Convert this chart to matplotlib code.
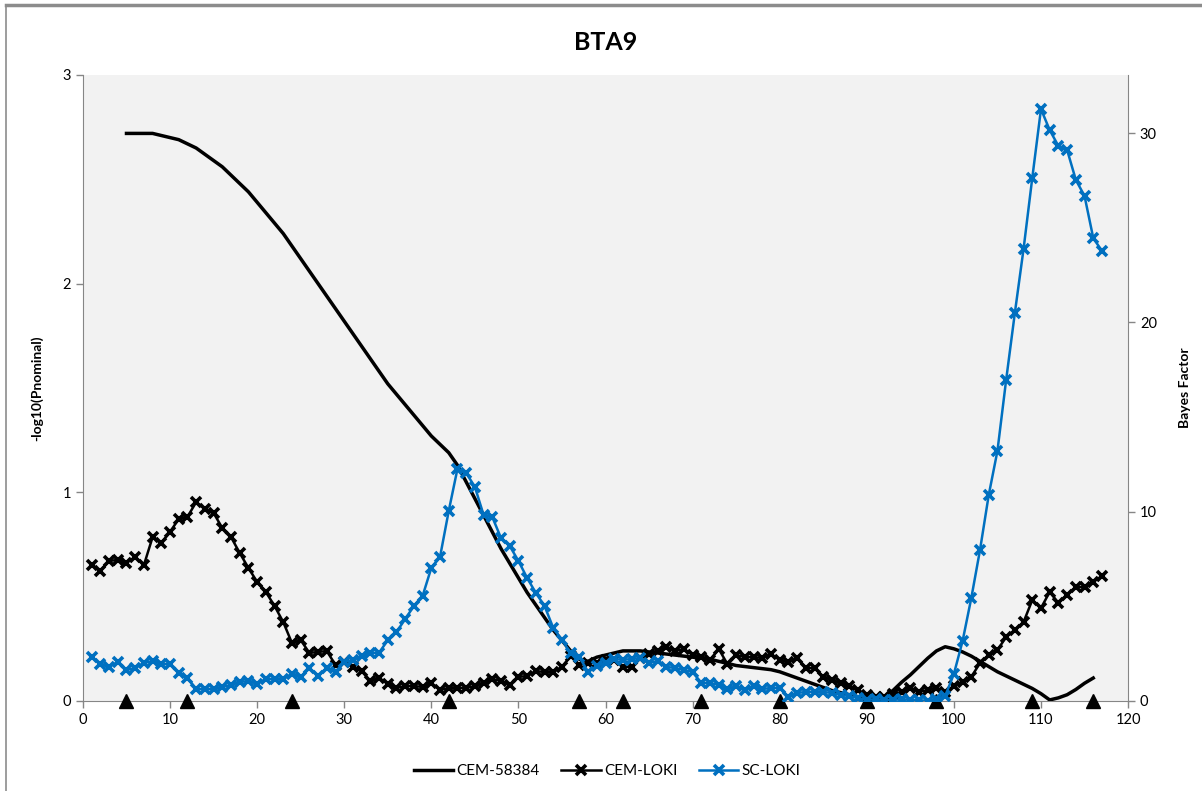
import matplotlib
matplotlib.use("Agg")
import matplotlib.pyplot as plt
from matplotlib.lines import Line2D

plt.rcParams['font.family'] = ['Lato', 'DejaVu Sans']

# Positions along BTA9
pos_loki = list(range(1, 118))
pos_cem = list(range(5, 117))

# CEM-58384: -log10(P nominal)
cem_58384 = [
    2.72, 2.72, 2.72, 2.72, 2.71, 2.70, 2.69, 2.67, 2.65, 2.62,
    2.59, 2.56, 2.52, 2.48, 2.44, 2.39, 2.34, 2.29, 2.24, 2.18,
    2.12, 2.06, 2.00, 1.94, 1.88, 1.82, 1.76, 1.70, 1.64, 1.58,
    1.52, 1.47, 1.42, 1.37, 1.32, 1.27, 1.23, 1.19, 1.13, 1.05,
    0.97, 0.89, 0.81, 0.73, 0.66, 0.59, 0.52, 0.46, 0.40, 0.34,
    0.29, 0.24, 0.20, 0.19, 0.21, 0.22, 0.23, 0.24, 0.24, 0.24,
    0.235, 0.23, 0.225, 0.22, 0.215, 0.21, 0.205, 0.20, 0.19, 0.18,
    0.17, 0.165, 0.16, 0.155, 0.15, 0.14, 0.125, 0.11, 0.095, 0.08,
    0.065, 0.05, 0.04, 0.03, 0.02, 0.015, 0.01, 0.02, 0.05, 0.09,
    0.125, 0.165, 0.205, 0.24, 0.26, 0.25, 0.235, 0.215, 0.19, 0.165,
    0.14, 0.12, 0.10, 0.08, 0.06, 0.035, 0.005, 0.015, 0.03, 0.055,
    0.085, 0.11,
]

# CEM-LOKI: Bayes factor
cem_loki = [
    7.18, 6.87, 7.40, 7.45, 7.29, 7.61, 7.18, 8.66, 8.35, 8.93,
    9.62, 9.72, 10.51, 10.14, 9.93, 9.14, 8.66, 7.82, 7.03, 6.29,
    5.76, 5.02, 4.17, 3.06, 3.22, 2.54, 2.59, 2.64, 1.90, 2.06,
    1.80, 1.58, 1.06, 1.22, 0.90, 0.69, 0.79, 0.79, 0.74, 0.95,
    0.58, 0.69, 0.69, 0.69, 0.79, 0.95, 1.16, 1.06, 0.85, 1.27,
    1.32, 1.58, 1.53, 1.53, 1.80, 2.38, 1.90, 2.01, 2.01, 2.17,
    2.17, 1.80, 1.80, 2.27, 2.48, 2.64, 2.85, 2.64, 2.75, 2.43,
    2.32, 2.17, 2.75, 1.95, 2.43, 2.32, 2.32, 2.27, 2.48, 2.17,
    2.06, 2.27, 1.74, 1.74, 1.27, 1.11, 0.95, 0.79, 0.58, 0.32,
    0.21, 0.21, 0.37, 0.48, 0.69, 0.48, 0.58, 0.69, 0.48, 0.79,
    1.00, 1.27, 2.01, 2.43, 2.69, 3.38, 3.75, 4.17, 5.33, 4.91,
    5.76, 5.18, 5.60, 6.02, 6.02, 6.29, 6.60,
]

# SC-LOKI: Bayes factor
sc_loki = [
    2.32, 1.95, 1.80, 2.06, 1.64, 1.74, 2.01, 2.11, 1.95, 1.95,
    1.48, 1.22, 0.63, 0.63, 0.63, 0.74, 0.85, 1.00, 1.06, 0.90,
    1.16, 1.16, 1.16, 1.43, 1.27, 1.74, 1.32, 1.74, 1.53, 2.06,
    2.17, 2.38, 2.54, 2.54, 3.22, 3.64, 4.33, 5.02, 5.55, 7.03,
    7.61, 10.04, 12.26, 12.05, 11.31, 9.83, 9.72, 8.61, 8.19, 7.40,
    6.50, 5.71, 5.02, 3.86, 3.22, 2.54, 2.33, 1.53, 1.85, 2.01,
    2.22, 2.17, 2.22, 2.27, 2.01, 2.11, 1.80, 1.74, 1.64, 1.53,
    0.95, 0.95, 0.85, 0.63, 0.79, 0.58, 0.79, 0.63, 0.69, 0.69,
    0.21, 0.42, 0.48, 0.48, 0.48, 0.42, 0.32, 0.26, 0.16, 0.05,
    0.10, 0.05, 0.05, 0.10, 0.05, 0.05, 0.00, 0.10, 0.26, 1.43,
    3.17, 5.44, 7.98, 10.88, 13.21, 16.96, 20.50, 23.88, 27.63, 31.27,
    30.16, 29.32, 29.11, 27.53, 26.68, 24.46, 23.77,
]

# Marker positions drawn along the x axis
markers_pos = [5, 12, 24, 42, 57, 62, 71, 80, 90, 98, 109, 116]

title = "BTA9"
left_label = "-log10(Pnominal)"
right_label = "Bayes Factor"
series_names = ["CEM-58384", "CEM-LOKI", "SC-LOKI"]

blue = "#0070C0"
axis_grey = "#868686"

fig = plt.figure(figsize=(12.02, 7.91), dpi=100)
fig.patch.set_facecolor("white")

# outer chart frame
fig.add_artist(Line2D([0.005, 1.0], [0.9935, 0.9935], color="#8c8c8c", lw=2.5,
                      transform=fig.transFigure))
fig.add_artist(Line2D([0.005, 0.005], [0.0, 0.9935], color="#8c8c8c", lw=1.2,
                      transform=fig.transFigure))

ax = fig.add_axes([0.069, 0.1138, 0.8695, 0.7914])
ax.set_facecolor("#F2F2F2")
ax2 = ax.twinx()

ax.set_xlim(0, 120)
ax.set_ylim(0, 3)
ax2.set_ylim(0, 33.07)

l1, = ax.plot(pos_cem, cem_58384, color="black", lw=2.5, zorder=3)
ax.plot(markers_pos, [0] * len(markers_pos), linestyle="none", marker="^",
        color="black", markersize=9.5, clip_on=False, zorder=6)

l2, = ax2.plot(pos_loki, cem_loki, color="black", lw=1.8, marker="x",
               markersize=7, markeredgewidth=2.6, zorder=3)
l3, = ax2.plot(pos_loki, sc_loki, color=blue, lw=1.8, marker="x",
               markersize=7, markeredgewidth=2.6, zorder=4)

ax.set_xticks(range(0, 121, 10))
ax.set_yticks([0, 1, 2, 3])
ax2.set_yticks([0, 10, 20, 30])

for a in (ax, ax2):
    for s in a.spines.values():
        s.set_color(axis_grey)
    a.spines["top"].set_visible(False)
    a.tick_params(colors=axis_grey, labelcolor="black", labelsize=10.5,
                  length=5, width=1, direction="out")
ax.spines["right"].set_visible(False)
ax2.spines["left"].set_visible(False)
ax2.spines["bottom"].set_visible(False)

ax.set_title(title, fontsize=18, fontweight="bold", pad=18)
ax.set_ylabel(left_label, fontsize=10, fontweight="bold", labelpad=14)
ax2.set_ylabel(right_label, fontsize=10, fontweight="bold", labelpad=16)

fig.legend([l1, l2, l3], series_names, loc="center", ncol=3,
           bbox_to_anchor=(0.505, 0.025), frameon=False, fontsize=11,
           handlelength=2.6, columnspacing=1.4, handletextpad=0.2)

fig.savefig("out.png", dpi=100)
